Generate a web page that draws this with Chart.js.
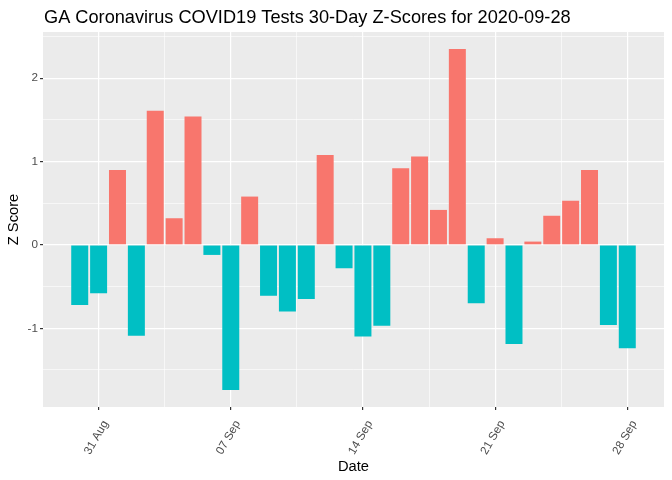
<!DOCTYPE html>
<html>
<head>
<meta charset="utf-8">
<script src="https://cdn.jsdelivr.net/npm/chart.js@4"></script>
<style>
  html, body { margin: 0; padding: 0; background: #ffffff; }
  #wrap { width: 672px; height: 480px; }
</style>
</head>
<body>
<div id="wrap"><canvas id="c" width="672" height="480"></canvas></div>
<script>
// ---- data ----
const chartTitle = 'GA Coronavirus COVID19 Tests 30-Day Z-Scores for 2020-09-28';
const dates = ['2020-08-30','2020-08-31','2020-09-01','2020-09-02','2020-09-03','2020-09-04',
  '2020-09-05','2020-09-06','2020-09-07','2020-09-08','2020-09-09','2020-09-10','2020-09-11',
  '2020-09-12','2020-09-13','2020-09-14','2020-09-15','2020-09-16','2020-09-17','2020-09-18',
  '2020-09-19','2020-09-20','2020-09-21','2020-09-22','2020-09-23','2020-09-24','2020-09-25',
  '2020-09-26','2020-09-27','2020-09-28'];
const zScores = [-0.72, -0.58, 0.90, -1.09, 1.61, 0.32, 1.54, -0.12, -1.74, 0.58,
  -0.61, -0.80, -0.65, 1.08, -0.28, -1.10, -0.97, 0.92, 1.06, 0.42,
  2.35, -0.70, 0.08, -1.19, 0.04, 0.35, 0.53, 0.90, -0.96, -1.24];
const tickDates = ['2020-08-31','2020-09-07','2020-09-14','2020-09-21','2020-09-28'];
const tickLabels = ['31 Aug','07 Sep','14 Sep','21 Sep','28 Sep'];
const yMajorTicks = [-1, 0, 1, 2];
const yMinorTicks = [-1.5, -0.5, 0.5, 1.5, 2.5];

// ---- derived ----
const xIndex = dates.map((d, i) => i);
const points = zScores.map((v, i) => ({ x: xIndex[i], y: v }));
const xMajor = tickDates.map(d => dates.indexOf(d));
const xMinor = [];
for (let k = 0; k < xMajor.length - 1; k++) xMinor.push((xMajor[k] + xMajor[k + 1]) / 2);

const FONT = '"Liberation Sans", Arial, Helvetica, sans-serif';
const posColor = '#F8766D', negColor = '#00BFC4';

// ggplot-like expansion (bar width 0.9, 5% expand)
const halfW = 0.45;
const xLo = -halfW, xHi = dates.length - 1 + halfW;
const xPad = (xHi - xLo) * 0.05;
const yLo = Math.min(0, ...zScores), yHi = Math.max(0, ...zScores);
const yPad = (yHi - yLo) * 0.05;

const isMajorX = v => xMajor.includes(v);
const isMajorY = v => yMajorTicks.includes(v);

const panelBg = {
  id: 'panelBg',
  beforeDraw(chart) {
    const { ctx, chartArea: a } = chart;
    ctx.save();
    ctx.fillStyle = '#EBEBEB';
    ctx.fillRect(a.left, a.top, a.right - a.left, a.bottom - a.top);
    ctx.restore();
  }
};
const titlePlugin = {
  id: 'ggTitle',
  afterDraw(chart) {
    const { ctx, chartArea: a } = chart;
    ctx.save();
    ctx.fillStyle = '#000000';
    ctx.font = '18.2px ' + FONT;
    ctx.textAlign = 'left';
    ctx.textBaseline = 'alphabetic';
    ctx.fillText(chartTitle, a.left + 1, 23);
    ctx.restore();
  }
};

new Chart(document.getElementById('c'), {
  type: 'bar',
  data: {
    datasets: [{
      data: points,
      backgroundColor: zScores.map(v => v >= 0 ? posColor : negColor),
      borderWidth: 0,
      barPercentage: 0.9,
      categoryPercentage: 1.0
    }]
  },
  options: {
    responsive: false,
    animation: false,
    devicePixelRatio: 1,
    layout: { padding: { top: 32, right: 8, left: 0, bottom: 0 } },
    plugins: { legend: { display: false }, tooltip: { enabled: false }, title: { display: false } },
    scales: {
      x: {
        type: 'linear',
        offset: false,
        min: xLo - xPad,
        max: xHi + xPad,
        afterBuildTicks(scale) {
          scale.ticks = [...xMajor, ...xMinor].sort((a, b) => a - b).map(v => ({ value: v }));
        },
        afterFit(scale) { scale.height = 73; },
        grid: {
          offset: false,
          color: '#FFFFFF',
          lineWidth: c => isMajorX(c.tick.value) ? 1.2 : 0.6,
          tickColor: c => isMajorX(c.tick.value) ? '#333333' : 'rgba(0,0,0,0)',
          tickLength: 3,
          drawTicks: true
        },
        border: { display: false },
        ticks: {
          autoSkip: false,
          minRotation: 60,
          maxRotation: 60,
          padding: 8,
          labelOffset: 7,
          color: '#4D4D4D',
          font: { family: FONT, size: 11.7 },
          callback: v => { const k = xMajor.indexOf(v); return k >= 0 ? tickLabels[k] : ''; }
        },
        title: {
          display: true, text: 'Date', color: '#000000',
          font: { family: FONT, size: 14.7 }, padding: { top: 0, bottom: 4 }
        }
      },
      y: {
        type: 'linear',
        min: yLo - yPad,
        max: yHi + yPad,
        afterBuildTicks(scale) {
          scale.ticks = [...yMajorTicks, ...yMinorTicks].sort((a, b) => a - b).map(v => ({ value: v }));
        },
        afterFit(scale) { scale.width = 43; },
        grid: {
          color: '#FFFFFF',
          lineWidth: c => isMajorY(c.tick.value) ? 1.2 : 0.6,
          tickColor: c => isMajorY(c.tick.value) ? '#333333' : 'rgba(0,0,0,0)',
          tickLength: 3,
          drawTicks: true
        },
        border: { display: false },
        ticks: {
          padding: 2,
          color: '#4D4D4D',
          font: { family: FONT, size: 11.7 },
          callback: v => isMajorY(v) ? String(v) : ''
        },
        title: {
          display: true, text: 'Z Score', color: '#000000',
          font: { family: FONT, size: 14.7 }, padding: { top: 5, bottom: 0 }
        }
      }
    }
  },
  plugins: [panelBg, titlePlugin]
});
</script>
</body>
</html>
